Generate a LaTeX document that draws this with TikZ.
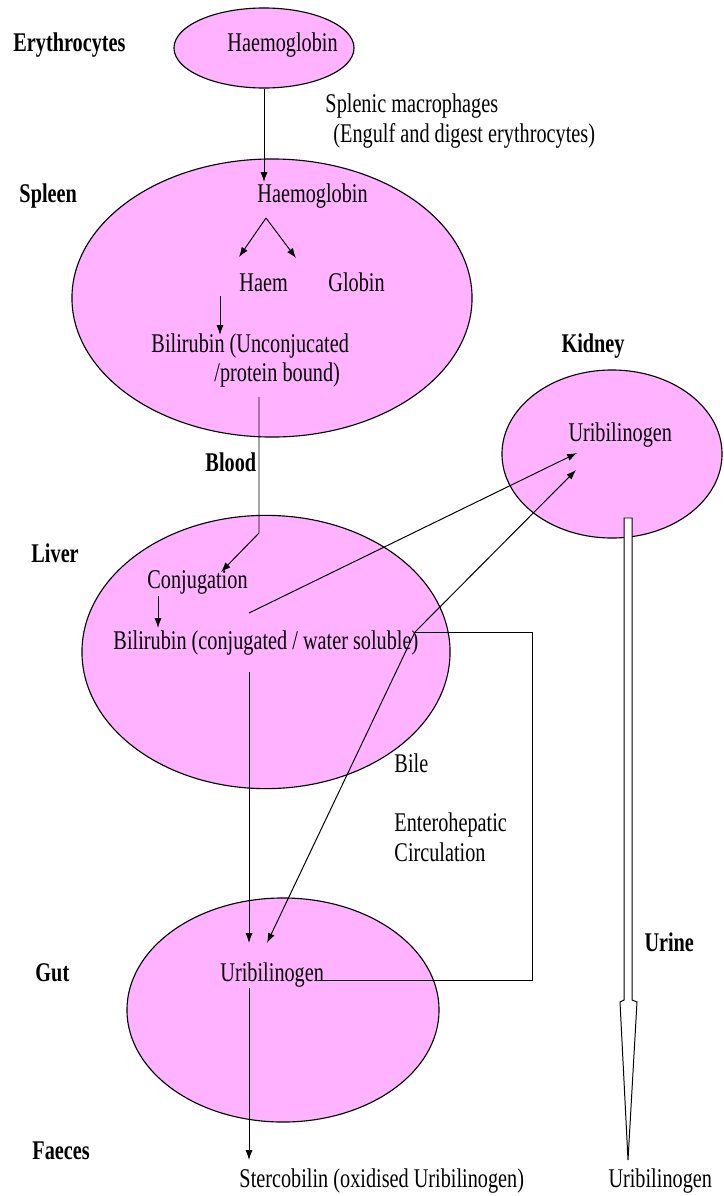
\documentclass[tikz,border=0pt]{standalone}
\usepackage{fontspec}
\setmainfont{Liberation Serif}[FakeStretch=0.75]
\usetikzlibrary{shapes.geometric,arrows.meta}

\definecolor{organpink}{RGB}{255,178,255}

\tikzset{
  organ/.style={ellipse,draw,fill=organpink,line width=0.8pt,inner sep=0pt},
  lbl/.style={anchor=base west,inner sep=0pt,font=\fontsize{19.2}{22}\selectfont},
  site/.style={lbl,font=\fontsize{19.2}{22}\selectfont\bfseries},
  arr/.style={-{Latex[length=7pt,width=5pt]}},
  arrs/.style={{Latex[length=7pt,width=5pt]}-{Latex[length=7pt,width=5pt]}},
}

\begin{document}
\begin{tikzpicture}[x=0.025cm,y=-0.025cm,line width=0.7pt]

        \useasboundingbox (0,0) rectangle (723,1196);

        % organs
        \node[organ, minimum width=4.5cm, minimum height=2cm]    (ery)    at (264,48)   {};
        \node[organ, minimum width=10cm,  minimum height=6.95cm] (spleen) at (272,298)  {};
        \node[organ, minimum width=5.5cm, minimum height=4.2cm]  (kidney) at (612,454)  {};
        \node[organ, minimum width=9.2cm, minimum height=6.83cm] (liver)  at (266,652)  {};
        \node[organ, minimum width=7.8cm, minimum height=5.6cm]  (gut)    at (283,1010) {};

        % names of the sites
        \begin{scope}[every node/.style={site}]
          \node (erylbl)    at (13,52)    {Erythrocytes};
          \node (splnlbl)   at (19,202)   {Spleen};
          \node (kidlbl)    at (561,352)  {Kidney};
          \node (bloodlbl)  at (205,471)  {Blood};
          \node (livlbl)    at (31,562)   {Liver};
          \node (urinelbl)  at (644,951)  {Urine};
          \node (gutlbl)    at (35,981)   {Gut};
          \node (faeclbl)   at (32,1159)  {Faeces};
        \end{scope}

        % substances
        \begin{scope}[every node/.style={lbl}]
          \node (hbE)    at (227,52)   {Haemoglobin};
          \node (mac1)   at (325,112)  {Splenic macrophages};
          \node (mac2)   at (333,142)  {(Engulf and digest erythrocytes)};
          \node (hbS)    at (257,202)  {Haemoglobin};
          \node (haem)   at (239,291)  {Haem};
          \node (globin) at (328,291)  {Globin};
          \node (bilU)   at (151,352)  {Bilirubin (Unconjucated};
          \node (bilU2)  at (214,381)  {/protein bound)};
          \node (uroK)   at (568,441)  {Uribilinogen};
          \node (conj)   at (147,588)  {Conjugation};
          \node (bilC)   at (113,649)  {Bilirubin (conjugated / water soluble)};
          \node (bile)   at (394,772)  {Bile};
          \node (ent1)   at (394,831)  {Enterohepatic};
          \node (ent2)   at (394,861)  {Circulation};
          \node (uroG)   at (220,981)  {Uribilinogen};
          \node (sterco) at (239,1187) {Stercobilin (oxidised Uribilinogen)};
          \node (uroU)   at (608,1187) {Uribilinogen};
        \end{scope}

        % ends of the connectors
        \coordinate (split)   at (266,218);
        \coordinate (haemtip) at (239,257);
        \coordinate (globtip) at (296,258);
        \coordinate (h1)      at (220,296);
        \coordinate (h2)      at (220,335);
        \coordinate (b1)      at (259,397);
        \coordinate (b2)      at (259,533);
        \coordinate (b3)      at (221,572);
        \coordinate (c1)      at (158,596);
        \coordinate (c2)      at (158,628);
        \coordinate (lk1)     at (249,613);
        \coordinate (lk2)     at (577,453);
        \coordinate (gk1)     at (267,943);
        \coordinate (gk2)     at (576,470);
        \coordinate (lg1)     at (249,672);
        \coordinate (lg2)     at (249,943);
        \coordinate (gf1)     at (249,988);
        \coordinate (gf2)     at (249,1160);
        \coordinate (bile1)   at (415,632);
        \coordinate (bile2)   at (532,632);
        \coordinate (bile3)   at (532,980);
        \coordinate (bile4)   at (318,980);

        \draw[arr] (ery.south) -- (ery.south |- 0,182);
        \draw[arr] (split) -- (haemtip);
        \draw[arr] (split) -- (globtip);
        \draw[arr] (h1) -- (h2);
        \draw[arr] (b1) -- (b2) -- (b3);
        \draw[arr] (c1) -- (c2);
        \draw[arr] (lk1) -- (lk2);
        \draw[arrs] (gk1) -- (bile1) -- (gk2);
        \draw[arr] (lg1) -- (lg2);
        \draw[arr] (gf1) -- (gf2);
        \draw (bile1) -- (bile2) -- (bile3) -- (bile4);

        % urine
        \draw[fill=white] (624,518) -- (632,518) -- (632,1000) -- (637,1002)
          -- (628,1160) -- (620,1002) -- (624,1000) -- cycle;

      \end{tikzpicture}
\end{document}
